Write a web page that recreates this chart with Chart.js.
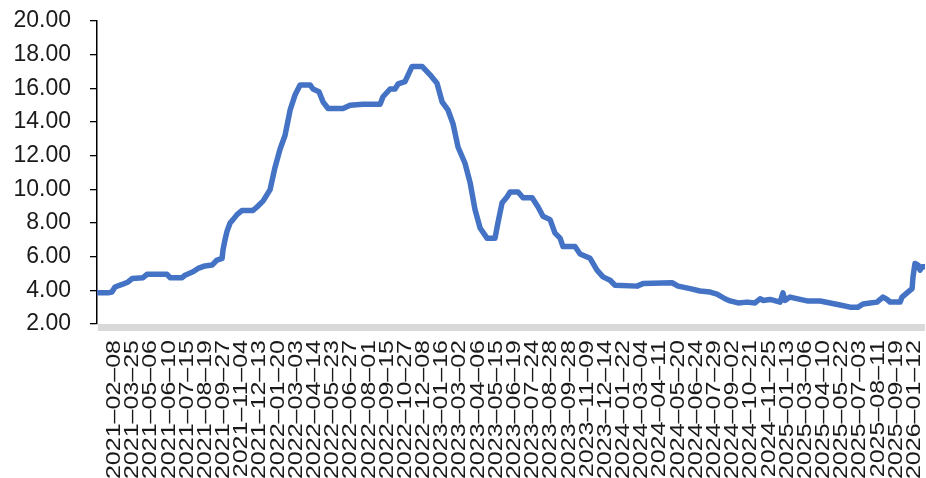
<!DOCTYPE html>
<html>
<head>
<meta charset="utf-8">
<script src="https://cdn.jsdelivr.net/npm/chart.js@4.4.1/dist/chart.umd.min.js"></script>
<style>
  html, body { margin: 0; padding: 0; background: #fff; }
</style>
</head>
<body>
<canvas id="chart" width="926" height="478"></canvas>
<script>
// Tick labels along the x axis (one every ~25 trading days)
const tickLabels = [
  '2021–02–08', '2021–03–25', '2021–05–06', '2021–06–10', '2021–07–15',
  '2021–08–19', '2021–09–27', '2021–11–04', '2021–12–13', '2022–01–20',
  '2022–03–03', '2022–04–14', '2022–05–23', '2022–06–27', '2022–08–01',
  '2022–09–15', '2022–10–27', '2022–12–08', '2023–01–16', '2023–03–02',
  '2023–04–06', '2023–05–15', '2023–06–19', '2023–07–24', '2023–08–28',
  '2023–09–28', '2023–11–09', '2023–12–14', '2024–01–22', '2024–03–04',
  '2024–04–11', '2024–05–20', '2024–06–24', '2024–07–29', '2024–09–02',
  '2024–10–21', '2024–11–25', '2025–01–13', '2025–03–06', '2025–04–10',
  '2025–05–22', '2025–07–03', '2025–08–11', '2025–09–19', '2026–01–12'
];

// Position of each sampled point, measured in tick-label units (0 = first label)
const xPos = [
  -0.83, -0.28, -0.06, 0.11, 0.50, 0.83, 1.05, 1.65, 1.87, 2.97,
  3.14, 3.80, 3.96, 4.40, 4.68, 5.06, 5.45, 5.72, 6.00, 6.05,
  6.16, 6.27, 6.44, 6.60, 6.82, 7.10, 7.70, 7.92, 8.25, 8.64,
  8.91, 9.19, 9.46, 9.74, 10.01, 10.29, 10.84, 11.00, 11.33, 11.55,
  11.83, 12.65, 13.04, 13.75, 14.69, 14.85, 15.24, 15.51, 15.68, 16.06,
  16.45, 17.00, 17.44, 17.82, 18.10, 18.43, 18.70, 18.98, 19.36, 19.64,
  19.91, 20.19, 20.57, 21.01, 21.18, 21.40, 21.67, 21.84, 22.28, 22.55,
  23.05, 23.38, 23.65, 24.04, 24.31, 24.59, 24.75, 25.41, 25.69, 26.24,
  26.62, 26.95, 27.34, 27.61, 28.82, 29.15, 30.75, 31.08, 31.74, 32.29,
  32.84, 33.22, 33.66, 33.94, 34.38, 34.87, 35.31, 35.59, 35.75, 36.14,
  36.69, 36.85, 36.96, 37.24, 37.79, 38.17, 38.89, 39.44, 39.99, 40.54,
  40.98, 41.25, 41.64, 42.02, 42.35, 42.57, 42.74, 43.29, 43.40, 43.67,
  43.95, 44.00, 44.11, 44.28, 44.39, 44.50, 44.66
];

const values = [
  3.85, 3.85, 3.90, 4.20, 4.35, 4.50, 4.70, 4.75, 4.95, 4.95,
  4.75, 4.75, 4.90, 5.10, 5.30, 5.45, 5.50, 5.80, 5.90, 6.40,
  7.00, 7.50, 8.00, 8.20, 8.50, 8.75, 8.75, 8.95, 9.30, 9.98,
  11.30, 12.40, 13.20, 14.70, 15.60, 16.20, 16.20, 15.96, 15.80, 15.20,
  14.80, 14.80, 15.00, 15.05, 15.05, 15.50, 15.96, 15.96, 16.26, 16.40,
  17.30, 17.30, 16.80, 16.30, 15.20, 14.70, 13.90, 12.50, 11.55, 10.40,
  8.80, 7.70, 7.10, 7.10, 8.06, 9.20, 9.55, 9.84, 9.84, 9.50,
  9.50, 8.95, 8.40, 8.20, 7.40, 7.10, 6.60, 6.60, 6.16, 5.90,
  5.20, 4.80, 4.60, 4.30, 4.25, 4.40, 4.45, 4.25, 4.10, 3.96,
  3.90, 3.78, 3.50, 3.37, 3.25, 3.30, 3.25, 3.50, 3.40, 3.46,
  3.30, 3.85, 3.40, 3.60, 3.46, 3.37, 3.37, 3.25, 3.13, 3.00,
  3.00, 3.19, 3.25, 3.30, 3.60, 3.46, 3.30, 3.30, 3.60, 3.85,
  4.10, 4.80, 5.60, 5.50, 5.20, 5.40, 5.40
];

const yTicks = [2, 4, 6, 8, 10, 12, 14, 16, 18, 20];

// Gray band under the plot + rotated date labels
const axisDecor = {
  id: 'axisDecor',
  beforeDatasetsDraw(chart) {
    const { ctx, chartArea } = chart;
    ctx.save();
    ctx.fillStyle = '#d9d9d9';
    ctx.fillRect(chartArea.left + 1, chartArea.bottom, chartArea.right - chartArea.left - 1, 7);
    ctx.restore();
  },
  afterDraw(chart) {
    const { ctx, chartArea } = chart;
    const xs = chart.scales.x;
    ctx.save();
    ctx.fillStyle = '#1a1a1a';
    ctx.font = '20px "Liberation Sans"';
    ctx.textAlign = 'right';
    ctx.textBaseline = 'alphabetic';
    tickLabels.forEach((t, i) => {
      const px = xs.getPixelForValue(i);
      ctx.save();
      ctx.translate(px, chartArea.bottom + 16);
      ctx.rotate(-Math.PI / 2);
      ctx.scale(1.25, 1);
      ctx.fillText(t, 0, 7);
      ctx.restore();
    });
    ctx.restore();
  }
};

const ctx = document.getElementById('chart').getContext('2d');

new Chart(ctx, {
  type: 'line',
  data: {
    datasets: [{
      data: xPos.map((x, i) => ({ x: x, y: values[i] })),
      borderColor: '#4472C4',
      borderWidth: 5.5,
      pointRadius: 0,
      tension: 0,
      borderJoinStyle: 'round',
      borderCapStyle: 'round',
      fill: false
    }]
  },
  options: {
    responsive: false,
    animation: false,
    devicePixelRatio: 1,
    layout: { padding: { left: 0, top: 21, right: 1, bottom: 154 } },
    plugins: {
      legend: { display: false },
      tooltip: { enabled: false }
    },
    scales: {
      x: {
        type: 'linear',
        display: false,
        min: -0.88,
        max: 44.66
      },
      y: {
        min: 2,
        max: 20,
        afterBuildTicks: (scale) => { scale.ticks = yTicks.map(v => ({ value: v })); },
        afterFit: (scale) => {
          scale.width = 97;
          scale.paddingTop = 0;
          scale.paddingBottom = 0;
        },
        ticks: {
          callback: (v) => Number(v).toFixed(2),
          color: '#1a1a1a',
          font: { family: '"Liberation Sans", Arial, sans-serif', size: 23 },
          padding: 19
        },
        grid: {
          drawOnChartArea: false,
          drawTicks: true,
          tickLength: 7,
          color: '#000',
          lineWidth: 1.3
        },
        border: { color: '#000', width: 1.5 }
      }
    }
  },
  plugins: [axisDecor]
});
</script>
</body>
</html>
